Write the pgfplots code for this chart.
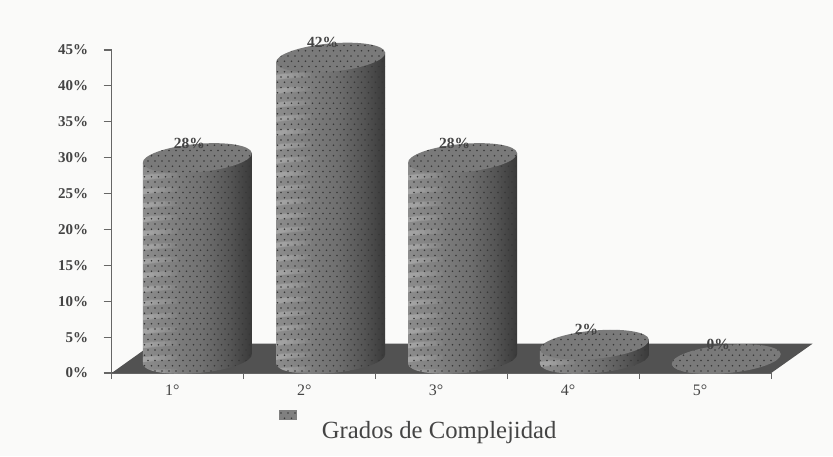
\documentclass[border=0pt]{standalone}
\usepackage{fontspec}
\setmainfont{Liberation Serif}
\usepackage{pgfplots}
\pgfplotsset{compat=1.18}
\usepgflibrary{patterns}
\usetikzlibrary{patterns}
\definecolor{paper}{HTML}{FAFAF9}
\definecolor{floorc}{HTML}{525252}
\definecolor{axc}{HTML}{666666}
\definecolor{dotc}{HTML}{383838}
\definecolor{txtc}{HTML}{444444}
\definecolor{topc}{HTML}{7A7A7A}
\pgfdeclarehorizontalshading{cylshade}{100bp}{
  color(0bp)=(black!45); color(25bp)=(black!45); color(38bp)=(black!50);
  color(52bp)=(black!56); color(64bp)=(black!66); color(75bp)=(black!78); color(100bp)=(black!78)}
\pgfdeclarepatternformonly{cyldots}{\pgfqpoint{-1pt}{-1pt}}{\pgfqpoint{8pt}{11pt}}{\pgfqpoint{7pt}{10.5pt}}{
  \pgfpathcircle{\pgfqpoint{1pt}{1pt}}{0.85pt}
  \pgfpathcircle{\pgfqpoint{4.5pt}{6.25pt}}{0.85pt}
  \pgfusepath{fill}}
\pgfdeclareplotmark{cyl}{%
  \pgfmathsetlengthmacro{\cylh}{\cylval*7.178pt}%
  \pgftransformshift{\pgfqpoint{0pt}{14pt}}%
  \def\bodypath{%
    \pgfpathmoveto{\pgfqpoint{-54.5pt}{-5pt}}%
    \pgfpathlineto{\pgfpoint{-54.5pt}{-5pt-\cylh}}%
    \pgfpathcurveto{\pgfpoint{-53.67pt}{-12.73pt-\cylh}}{\pgfpoint{-28.6pt}{-16.76pt-\cylh}}{\pgfpoint{1.5pt}{-14pt-\cylh}}%
    \pgfpathcurveto{\pgfpoint{31.6pt}{-11.24pt-\cylh}}{\pgfpoint{55.33pt}{-2.73pt-\cylh}}{\pgfpoint{54.5pt}{5pt-\cylh}}%
    \pgfpathlineto{\pgfqpoint{54.5pt}{5pt}}%
    \pgfpathclose}%
  \begin{pgfscope}\bodypath\pgfshadepath{cylshade}{0}\pgfusepath{discard}\end{pgfscope}%
  \begin{pgfscope}\bodypath\pgfusepath{clip}%
    \pgfsetstrokeopacity{0.05}\pgfsetstrokecolor{white}\pgfsetlinewidth{5pt}%
    \pgfsetbuttcap
    \foreach \s in {1,...,30}{%
      \foreach \e in {-44,-38,-32,-26,-20}{%
      \pgfpathmoveto{\pgfpoint{-56pt}{-6pt-14pt*\s}}%
      \pgfpathlineto{\pgfpoint{1pt*\e}{-3pt-14pt*\s}}%
      \pgfusepath{stroke}}}%
  \end{pgfscope}%
  \begin{pgfscope}\pgfsetfillpattern{cyldots}{dotc}\bodypath\pgfusepath{fill}\end{pgfscope}%
  \begin{pgfscope}\pgfsetfillcolor{topc}%
    \pgfpathellipse{\pgfpointorigin}{\pgfqpoint{54.5pt}{5pt}}{\pgfqpoint{-1.5pt}{14pt}}\pgfusepath{fill}\end{pgfscope}%
  \begin{pgfscope}\pgfsetfillpattern{cyldots}{dotc}%
    \pgfpathellipse{\pgfpointorigin}{\pgfqpoint{54.5pt}{5pt}}{\pgfqpoint{-1.5pt}{14pt}}\pgfusepath{fill}\end{pgfscope}%
}
\pgfplotstableread{
x v
0.649 28
1.66 42
2.66 28
3.66 2
4.66 0
}\cyldata
\begin{document}
\begin{tikzpicture}
\fill[paper] (-111.7pt,-83pt) rectangle (721.3pt,373pt);
\begin{axis}[
  at={(0pt,0pt)}, anchor=south west,
  scale only axis, width=659.5pt, height=323pt,
  xmin=0, xmax=5, ymin=0, ymax=45,
  clip=false,
  axis x line*=bottom, axis y line*=left,
  axis line style={axc, line width=1.1pt, -},
  tick style={axc, line width=1.1pt},
  tick align=outside,
  ytick={0,5,...,45},
  yticklabel={\pgfmathprintnumber{\tick}\%},
  /pgf/number format/assume math mode=true,
  yticklabel style={font=\bfseries\fontsize{15}{15}\selectfont, text=txtc, xshift=-12pt},
  major tick length=8pt,
  xtick={0.46,1.46,2.46,3.46,4.46},
  xticklabels={1°,2°,3°,4°,5°},
  xticklabel style={font=\fontsize{16}{16}\selectfont, text=txtc, yshift=0pt},
  minor xtick={0,1,2,3,4,5},
  minor tick length=6pt,
  x tick style={draw=none},
  minor x tick style={draw=axc, line width=1.1pt},
]
\addplot[draw=none, fill=floorc, forget plot] coordinates {(0,0) (5,0) (5.315,4.1) (0.313,4.1)} -- cycle;
\addplot[scatter, only marks, mark=cyl, point meta=y, forget plot,
  scatter/use mapped color={draw=none,fill=none},
  visualization depends on={rawy \as \cylval}]
  table[x=x, y=v] {\cyldata};
\addplot[only marks, mark=none, forget plot, point meta=y,
  nodes near coords={\pgfmathprintnumber{\pgfplotspointmeta}\%},
  nodes near coords style={font=\bfseries\fontsize{15.5}{15.5}\selectfont, text=txtc, anchor=center, xshift=-8pt, yshift=29pt}]
  table[x=x, y=v] {\cyldata};
\end{axis}
\fill[black!50] (167pt,-47pt) rectangle (185pt,-37pt);
\fill[pattern=cyldots, pattern color=dotc] (167pt,-47pt) rectangle (185pt,-37pt);
\node[font=\fontsize{24.7}{24.7}\selectfont, text=txtc, anchor=center] at (327.5pt,-60pt) {Grados de Complejidad};
\end{tikzpicture}
\end{document}
